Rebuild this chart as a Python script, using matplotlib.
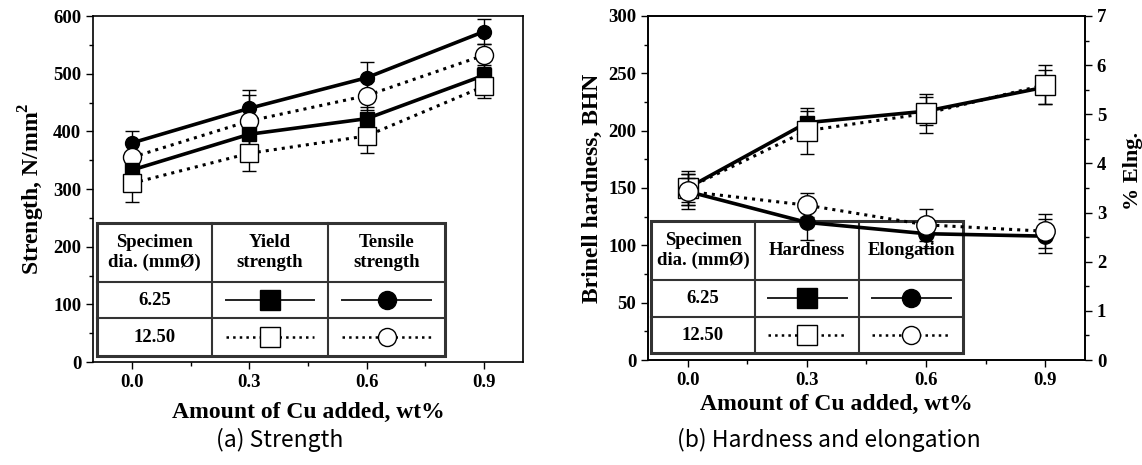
import matplotlib.pyplot as plt
import numpy as np
from matplotlib.patches import Rectangle
from matplotlib.lines import Line2D

# data
cu = [0.0, 0.3, 0.6, 0.9]

# (a) strength, N/mm2
tensile_625 = [380, 440, 493, 573]
tensile_625_err = [20, 32, 28, 22]
tensile_1250 = [355, 418, 462, 532]
tensile_1250_err = [25, 45, 25, 20]
yield_625 = [333, 395, 422, 497]
yield_625_err = [20, 25, 20, 18]
yield_1250 = [310, 362, 392, 478]
yield_1250_err = [33, 30, 30, 20]

# (b) hardness (BHN, left) and elongation (%, right)
hard_625 = [150, 207, 217, 238]
hard_625_err = [12, 10, 12, 15]
hard_1250 = [150, 200, 215, 240]
hard_1250_err = [15, 20, 17, 17]
elong_625 = [3.43, 2.8, 2.57, 2.52]
elong_625_err = [0.28, 0.35, 0.3, 0.35]
elong_1250 = [3.43, 3.15, 2.75, 2.62]
elong_1250_err = [0.35, 0.25, 0.32, 0.35]

xticks = [0.0, 0.3, 0.6, 0.9]
xticklabels = ["0.0", "0.3", "0.6", "0.9"]

SERIF = "Liberation Serif"
CAP = "Noto Sans CJK KR"

plt.rcParams["font.family"] = SERIF
plt.rcParams["font.weight"] = "bold"
plt.rcParams["mathtext.fontset"] = "custom"
plt.rcParams["mathtext.bf"] = "Liberation Serif:bold"
plt.rcParams["mathtext.rm"] = "Liberation Serif:bold"

fig = plt.figure(figsize=(11.42, 4.65), dpi=100)
axa = fig.add_axes([0.0814, 0.2215, 0.3765, 0.744])
axb = fig.add_axes([0.5674, 0.2258, 0.3827, 0.7398])


def series(ax, y, err, filled, marker, ms):
    ls = "-" if filled else ":"
    lw = 2.6 if filled else 2.2
    face = "black" if filled else "white"
    ax.errorbar(cu, y, yerr=err, color="black", ls=ls, lw=lw, marker=marker,
                ms=ms, mfc=face, mec="black", mew=1.0, ecolor="black",
                elinewidth=1.0, capsize=5, capthick=1.0, zorder=5)


def style_axis(ax, ymax, ystep, ymin_step):
    ax.set_xlim(-0.1, 1.0)
    ax.set_ylim(0, ymax)
    ax.set_xticks(xticks)
    ax.set_xticklabels(xticklabels)
    ax.set_xticks([0.15, 0.45, 0.75], minor=True)
    ax.set_yticks(np.arange(0, ymax + 1e-9, ystep))
    ax.set_yticks(np.arange(0, ymax + 1e-9, ymin_step), minor=True)
    ax.tick_params(which="both", direction="out", labelsize=13.5, width=1.0)
    ax.tick_params(which="major", length=5)
    ax.tick_params(which="minor", length=3)
    for sp in ax.spines.values():
        sp.set_linewidth(1.2)
    ax.set_xlabel("Amount of Cu added, wt%", fontsize=17, fontweight="bold", labelpad=8)


def legend_table(ax, xs, ys, headers, rows):
    # white backdrop + grid lines, in axes fraction
    tr = ax.transAxes
    ax.add_patch(Rectangle((xs[0], ys[-1]), xs[-1] - xs[0], ys[0] - ys[-1],
                           transform=tr, facecolor="white", edgecolor="#333333",
                           lw=2.2, zorder=3))
    for x in xs[1:-1]:
        ax.add_line(Line2D([x, x], [ys[-1], ys[0]], transform=tr, color="#333333", lw=1.5, zorder=3))
    for y in ys[1:-1]:
        ax.add_line(Line2D([xs[0], xs[-1]], [y, y], transform=tr, color="#333333", lw=1.5, zorder=3))
    for i, h in enumerate(headers):
        ax.text((xs[i] + xs[i + 1]) / 2, (ys[0] + ys[1]) / 2, h, transform=tr,
                ha="center", va="center", fontsize=13.5, fontweight="bold",
                linespacing=1.2, zorder=4)
    for r, (label, specs) in enumerate(rows):
        yc = (ys[r + 1] + ys[r + 2]) / 2
        ax.text((xs[0] + xs[1]) / 2, yc, label, transform=tr, ha="center",
                va="center", fontsize=13.5, fontweight="bold", zorder=4)
        for c, (marker, filled, ms) in enumerate(specs):
            x0, x1 = xs[c + 1], xs[c + 2]
            pad = (x1 - x0) * 0.12
            xm = (x0 + x1) / 2
            ls = "-" if filled else ":"
            lw = 1.4 if filled else 1.8
            ax.add_line(Line2D([x0 + pad, x1 - pad], [yc, yc], transform=tr,
                               color="#222222" if filled else "black", ls=ls, lw=lw, zorder=4))
            ax.add_line(Line2D([xm], [yc], transform=tr, marker=marker, ms=ms,
                               mfc="black" if filled else "white", mec="black",
                               mew=1.0, ls="none", zorder=4))


# ---- (a) strength
series(axa, tensile_625, tensile_625_err, True, "o", 10)
series(axa, tensile_1250, tensile_1250_err, False, "o", 13)
series(axa, yield_625, yield_625_err, True, "s", 10)
series(axa, yield_1250, yield_1250_err, False, "s", 13)
style_axis(axa, 600, 100, 50)
axa.set_ylabel("Strength, N/mm$^{\\mathbf{2}}$", fontsize=17, fontweight="bold", labelpad=4)
legend_table(axa, [0.009, 0.277, 0.547, 0.819], [0.402, 0.231, 0.127, 0.017],
             ["Specimen\ndia. (mmØ)", "Yield\nstrength", "Tensile\nstrength"],
             [("6.25", [("s", True, 14), ("o", True, 13)]),
              ("12.50", [("s", False, 14), ("o", False, 13)])])
fig.text(0.245, 0.054, "(a) Strength", fontfamily=CAP, fontweight="normal",
         fontsize=16.5, ha="center", va="center")

# ---- (b) hardness and elongation
axb2 = axb.twinx()
series(axb, hard_625, hard_625_err, True, "s", 10)
series(axb, hard_1250, hard_1250_err, False, "s", 14)
series(axb2, elong_625, elong_625_err, True, "o", 11)
series(axb2, elong_1250, elong_1250_err, False, "o", 14)
style_axis(axb, 300, 50, 25)
axb.xaxis.set_label_coords(0.43, -0.1)
axb.set_ylabel("Brinell hardness, BHN", fontsize=17, fontweight="bold", labelpad=4)
axb2.set_ylim(0, 7)
axb2.set_yticks(np.arange(0, 8, 1))
axb2.set_yticks(np.arange(0, 7.01, 0.5), minor=True)
axb2.tick_params(which="both", direction="out", labelsize=13.5, width=1.0)
axb2.tick_params(which="major", length=5)
axb2.tick_params(which="minor", length=3)
axb2.set_ylabel("% Elng.", fontsize=16, fontweight="bold")
axb2.yaxis.set_label_coords(1.087, 0.55)
for sp in axb2.spines.values():
    sp.set_linewidth(1.2)
axb.set_zorder(axb2.get_zorder() - 1)
axb2.patch.set_visible(False)
legend_table(axb2, [0.007, 0.245, 0.483, 0.721], [0.404, 0.233, 0.125, 0.020],
             ["Specimen\ndia. (mmØ)", "Hardness", "Elongation"],
             [("6.25", [("s", True, 14), ("o", True, 13)]),
              ("12.50", [("s", False, 14), ("o", False, 13)])])
fig.text(0.726, 0.054, "(b) Hardness and elongation", fontfamily=CAP,
         fontweight="normal", fontsize=16.5, ha="center", va="center")

fig.savefig("out.png", dpi=100)
